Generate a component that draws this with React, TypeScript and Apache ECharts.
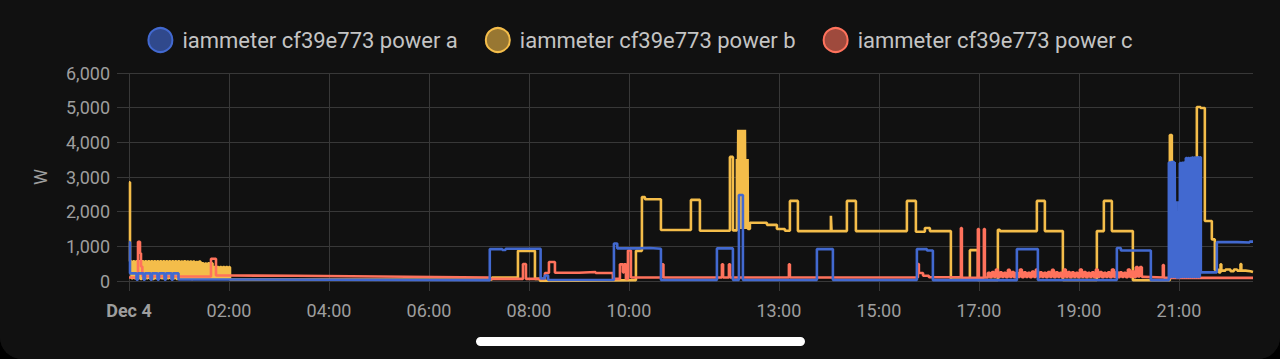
import React, { useEffect, useRef } from "react";
import * as echarts from "echarts";

const seriesNames = [
  "iammeter cf39e773 power a",
  "iammeter cf39e773 power b",
  "iammeter cf39e773 power c",
];
const seriesColors = ["#4269d0", "#f4bd4a", "#ff725c"];
const legendFills = ["rgba(66,105,208,0.65)", "rgba(244,189,74,0.6)", "rgba(255,114,92,0.6)"];

// x axis in minutes after midnight, Dec 4
const tickMinutes = [0, 120, 240, 360, 480, 600, 780, 900, 1020, 1140, 1260];
const xMax = 1349;
const yMin = 0;
const yMax = 6000;
const yInterval = 1000;

// power a (blue), [minute, W]
const powerA: [number, number][] = [
  [0, 1120], [1.2, 220], [9, 40], [10.8, 220], [17.4, 40], [19.2, 220], [25.8, 40], [27.6, 220],
  [34.2, 40], [36, 220], [42.6, 40], [44.4, 220], [51, 40], [52.8, 220], [59.4, 45],
  [121, 25], [433, 920], [448, 895], [452, 930], [494, 70], [499, 160], [503, 30],
  [582, 1080], [586, 940], [610, 950], [625, 930], [638.4, 30],
  [705.6, 940], [724.8, 30], [732, 2480], [736.8, 30],
  [825.6, 920], [844.8, 30],
  [945.6, 920], [957.6, 880], [964.8, 25],
  [1065.6, 920], [1090.8, 30],
  [1185.6, 950], [1190.4, 880], [1226.4, 25],
  [1248, 3420], [1249.2, 120], [1250.4, 3430], [1251.6, 120], [1252.8, 3440], [1254, 120],
  [1255, 3430], [1255.8, 100], [1256.4, 2300], [1256.8, 100], [1259.6, 2300], [1260, 100],
  [1261.2, 3400], [1262.4, 120], [1263.6, 3410], [1264.8, 120], [1266, 3420], [1267.2, 120],
  [1268.4, 3550], [1269.6, 120], [1270.8, 3550], [1272, 120], [1273.2, 3550], [1274.4, 120],
  [1275.6, 3560], [1276.8, 120], [1278, 3560], [1279.2, 120], [1280.4, 3560], [1281.6, 120],
  [1282.8, 3570], [1284, 120], [1285.2, 3570], [1286.4, 250],
  [1305.6, 1120], [1330, 1110], [1345, 1135], [1349, 1135],
];

// power b (yellow): early burst sampled every 1.8 min from 1.2 min
const powerBBurstStart = 1.2;
const powerBBurstStep = 1.8;
const powerBBurst = [
  570, 80, 565, 80, 570, 80, 570, 60, 570, 80, 565, 80, 570, 80, 570, 60,
  570, 80, 565, 80, 570, 80, 570, 60, 570, 80, 565, 80, 570, 80, 570, 60,
  570, 80, 560, 80, 570, 80, 560, 80, 560, 60, 560, 80, 550, 80, 560,
  80, 510, 80, 500, 80, 510, 80, 510, 80,
  400, 80, 400, 80, 400, 80, 400, 80, 400, 80, 400,
];
const powerBHead: [number, number][] = [[0, 2850]];
const powerBTail: [number, number][] = [
  [121.2, 45], [435.6, 100], [466.8, 870], [487.2, 60], [493.2, 5], [499, 25],
  [608.4, 870], [615.6, 2420], [619.2, 2360], [638.4, 1470], [674.4, 2340], [685.2, 1450],
  [721.2, 3580], [724.8, 1460],
  [729.6, 3520], [730.4, 1500], [731.2, 4360], [732, 1500], [732.8, 4360], [733.6, 1500],
  [734.4, 4360], [735.2, 1500], [736, 4360], [736.8, 1500], [737.6, 4360], [738.4, 1500],
  [739.2, 4360], [740, 1500], [740.8, 3520], [741.6, 1500], [742.4, 3520], [742.8, 1500],
  [745.2, 1680], [765.6, 1620], [777.6, 1500], [787.2, 1450], [793.2, 2310], [802.8, 1440],
  [842.4, 1880], [843.2, 1440], [861.6, 2310], [872.4, 1440], [933.6, 2310], [944.4, 1420],
  [955.2, 1530], [961.2, 1440], [986.4, 40], [1009.2, 890], [1018.8, 30],
  [1042.8, 1480], [1045.2, 1440], [1089.6, 2310], [1099.2, 1440], [1120.8, 30],
  [1161.6, 1440], [1170, 2310], [1179.6, 1440], [1204.8, 20],
  [1249.2, 4210], [1251.6, 100], [1281.6, 5020], [1286, 4990], [1291.2, 1730], [1299.6, 1200],
  [1303.2, 320], [1308, 250], [1310, 480], [1311, 300], [1316, 330], [1322, 280], [1326, 330],
  [1330, 300], [1334, 490], [1335, 300], [1340, 280], [1346, 260], [1349, 270],
];

// power c (red)
const powerCHead: [number, number][] = [
  [0, 100], [10.8, 1130], [13.2, 800], [14.4, 420], [16, 130], [98.4, 640], [104.4, 160],
  [121.2, 150], [200, 130], [300, 110], [400, 100], [433.2, 60], [472.8, 490], [476.4, 60],
  [499.2, 230], [504, 550], [511.2, 240], [540, 260], [560, 230], [580.8, 60],
  [589.2, 480], [592.8, 250], [594, 480], [596.4, 60], [598.8, 880], [602.4, 100],
  [639.6, 480], [641.4, 100], [711.6, 480], [713, 100], [720, 480], [721.4, 100],
  [792, 480], [793.2, 100], [946.8, 490], [948, 230], [953, 150], [960, 110],
  [998.4, 1530], [999.6, 90], [1018.8, 1500], [1020, 90], [1026, 1500], [1027.2, 100],
];
const powerCBandStart = 1030.8;
const powerCBandStep = 2.4;
const powerCBand = [
  240, 110, 260, 120, 330, 110, 250, 120, 240, 110, 320, 120, 260, 110, 240, 120,
  330, 110, 250, 120, 240, 110, 270, 120, 330, 110, 250, 120, 240, 110, 260, 120,
  320, 110, 250, 120, 240, 110, 330, 120, 260, 110, 250, 120, 240, 110, 330, 120,
  260, 110, 240, 120, 250, 110, 330, 120, 260, 110, 240, 120, 250, 110, 330, 120,
  260, 110, 250, 120, 240, 110, 330, 120, 280, 110, 400, 130, 400, 120,
];
const powerCTail: [number, number][] = [
  [1218, 100], [1240.8, 460], [1242, 90], [1349, 90],
];

function sampled(start: number, step: number, vals: number[]): [number, number][] {
  return vals.map((v, i) => [start + i * step, v]);
}

export default function App() {
  const ref = useRef<HTMLDivElement>(null);
  useEffect(() => {
    document.body.style.margin = "0";
    document.body.style.background = "#000";
    if (!ref.current) return;
    const chart = echarts.init(ref.current, null, { renderer: "svg" });
    const dataA = powerA;
    const dataB = [...powerBHead, ...sampled(powerBBurstStart, powerBBurstStep, powerBBurst), ...powerBTail];
    const dataC = [...powerCHead, ...sampled(powerCBandStart, powerCBandStep, powerCBand), ...powerCTail];
    const datas = [dataA, dataB, dataC];
    const zs = [5, 3, 4];
    const gridColor = "#383838";
    const labelColor = "#9e9e9e";
    chart.setOption({
      animation: false,
      backgroundColor: "#111111",
      textStyle: { fontFamily: "Roboto" },
      legend: {
        top: 22,
        left: "center",
        itemWidth: 24,
        itemHeight: 24,
        itemGap: 27,
        icon: "circle",
        textStyle: { fontSize: 22, color: "#c4c4c4", fontFamily: "Roboto", padding: [0, 0, 0, 5] },
        data: seriesNames.map((n, i) => ({
          name: n,
          itemStyle: { color: legendFills[i], borderColor: seriesColors[i], borderWidth: 2 },
        })),
      },
      grid: { left: 129, right: 27, top: 73, bottom: 78, containLabel: false },
      xAxis: {
        type: "value",
        min: 0,
        max: xMax,
        axisLine: { show: false },
        axisTick: { show: true, customValues: tickMinutes, length: 10, lineStyle: { color: gridColor } },
        splitLine: { show: true, lineStyle: { color: gridColor, width: 1 } },
        axisLabel: {
          customValues: tickMinutes,
          margin: 20,
          fontSize: 18,
          color: labelColor,
          fontFamily: "Roboto",
          formatter: (v: number) => {
            const m = Math.round(v);
            if (m === 0) return "{b|Dec 4}";
            const h = Math.floor(m / 60);
            return String(h).padStart(2, "0") + ":00";
          },
          rich: { b: { fontWeight: "bold", fontSize: 18, color: labelColor, fontFamily: "Roboto" } },
        },
      },
      yAxis: {
        type: "value",
        min: yMin,
        max: yMax,
        interval: yInterval,
        name: "W",
        nameLocation: "middle",
        nameGap: 80,
        nameTextStyle: { fontSize: 18, color: labelColor, fontFamily: "Roboto" },
        axisLine: { show: false },
        axisTick: { show: true, length: 12, lineStyle: { color: gridColor } },
        splitLine: { show: true, lineStyle: { color: gridColor, width: 1 } },
        axisLabel: {
          margin: 19,
          fontSize: 18,
          color: labelColor,
          fontFamily: "Roboto",
          formatter: (v: number) => v.toLocaleString("en-US"),
        },
      },
      series: seriesNames.map((n, i) => ({
        name: n,
        type: "line",
        step: "end",
        data: datas[i],
        showSymbol: false,
        symbol: "none",
        z: zs[i],
        color: seriesColors[i],
        itemStyle: { color: seriesColors[i] },
        lineStyle: { color: seriesColors[i], width: 2.6 },
      })),
      graphic: [
        {
          type: "rect",
          shape: { x: 476, y: 337, width: 329, height: 9, r: 4.5 },
          style: { fill: "#ffffff" },
          z: 100,
        },
      ],
    });
    return () => chart.dispose();
  }, []);
  return (
    <div style={{ width: 1280, height: 359, background: "#000" }}>
      <div
        ref={ref}
        style={{ width: 1280, height: 359, borderRadius: "0 0 22px 22px", overflow: "hidden", background: "#111" }}
      />
    </div>
  );
}
